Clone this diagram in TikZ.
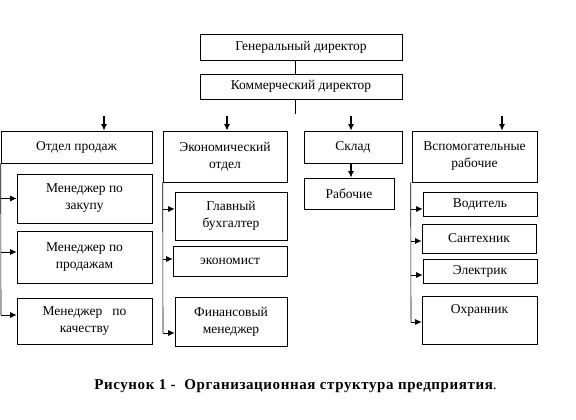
\documentclass[tikz,border=0pt]{standalone}
\usepackage{fontspec}
\setmainfont{Liberation Serif}
\usepackage{tikz}
\usetikzlibrary{arrows,arrows.meta,positioning}

\begin{document}
\begin{tikzpicture}[x=1pt, y=-1pt, >={Latex[length=6.5pt,width=6pt]},
    box/.style={draw=black, line width=0.6pt, rectangle, align=center, inner sep=1pt,
                font=\fontsize{13.5}{17}\selectfont},
    arr/.style={->, line width=0.9pt},
    bus/.style={line width=0.6pt}]
   \useasboundingbox (0,0) rectangle (576,420);

   % top management
   \node[box, minimum width=202pt, minimum height=26pt] (gen) at (301,47) {Генеральный директор};
   \node[box, minimum width=202pt, minimum height=25pt] (kom) at (301,86.5) {Коммерческий директор};

   % departments
   \node[box, minimum width=151pt, minimum height=32pt] (sales) at (76.5,147) {Отдел продаж};
   \node[box, minimum width=124pt, minimum height=51pt] (econ) at (225,156.5) {Экономический\\отдел};
   \node[box, minimum width=98pt, minimum height=32pt] (sklad) at (353,147) {Склад};
   \node[box, minimum width=125pt, minimum height=51pt] (aux) at (474.5,156.5) {Вспомогательные\\рабочие};

   % sales staff
   \node[box, minimum width=135pt, minimum height=49pt] (zak) at (84.5,198.5) {Менеджер по\\закупу};
   \node[box, minimum width=135pt, minimum height=52pt] (prod) at (84.5,257) {Менеджер по\\продажам};
   \node[box, minimum width=135pt, minimum height=46pt] (kach) at (84.5,321) {Менеджер\ \ \ по\\качеству};

   % economics staff
   \node[box, minimum width=112pt, minimum height=48pt] (buh) at (231,216) {Главный\\бухгалтер};
   \node[box, minimum width=114pt, minimum height=30pt] (ekon) at (230,261) {экономист};
   \node[box, minimum width=112pt, minimum height=49pt] (fin) at (231,321.5) {Финансовый\\менеджер};

   % warehouse staff
   \node[box, minimum width=90pt, minimum height=31pt] (rab) at (349,193.5) {Рабочие};

   % auxiliary staff
   \node[box, minimum width=114pt, minimum height=24pt] (vod) at (480,204) {Водитель};
   \node[box, minimum width=114pt, minimum height=29pt] (san) at (479,238.5) {Сантехник};
   \node[box, minimum width=114pt, minimum height=24pt] (elek) at (480,271) {Электрик};
   \node[box, minimum width=115pt, minimum height=48pt] (ohr) at (479.5,320) {Охранник\\\strut};

   % free ends
   \coordinate (k1) at (295,114);
   \coordinate (t1) at (104,116);
   \coordinate (t2) at (227,116);
   \coordinate (t3) at (351,116);
   \coordinate (t4) at (502,116);
   \coordinate (sb) at (1,315);
   \coordinate (eb) at (163,333);
   \coordinate (ab) at (411,322);

   \draw[bus] ([xshift=-6pt]gen.south) -- ([xshift=-6pt]kom.north);
   \draw[bus] ([xshift=-6pt]kom.south) -- (k1);

   \path[arr, line width=1.4pt]
     (t1) edge (t1 |- sales.north)
     (t2) edge (t2 |- econ.north)
     (t3) edge (t3 |- sklad.north)
     (t4) edge (t4 |- aux.north)
     ([xshift=-2pt]sklad.south) edge ([xshift=-2pt]sklad.south |- rab.north);

   % buses
   \draw[bus] (sales.south west) -- (sb);
   \draw[bus] (econ.south west) -- (eb);
   \draw[bus] ([xshift=-1pt]aux.south west) -- (ab);

   \path[arr]
     ([xshift=-16pt]zak.west) edge (zak.west)
     ([xshift=-16pt,yshift=5pt]prod.west) edge ([yshift=5pt]prod.west)
     ([xshift=-16pt,yshift=6pt]kach.west) edge ([yshift=6pt]kach.west)
     ([xshift=-12pt,yshift=7pt]buh.west) edge ([yshift=7pt]buh.west)
     ([xshift=-10pt,yshift=2pt]ekon.west) edge ([yshift=2pt]ekon.west)
     ([xshift=-12pt,yshift=-11.5pt]fin.west) edge ([yshift=-11.5pt]fin.west)
     ([xshift=-12pt,yshift=-5pt]vod.west) edge ([yshift=-5pt]vod.west)
     ([xshift=-11pt,yshift=-2.5pt]san.west) edge ([yshift=-2.5pt]san.west)
     ([xshift=-12pt,yshift=-4pt]elek.west) edge ([yshift=-4pt]elek.west)
     ([xshift=-11pt,yshift=-2pt]ohr.west) edge ([yshift=-2pt]ohr.west);

   % caption
   \node[font=\fontsize{15}{18}\selectfont] (cap) at (295.5,386)
     {\addfontfeatures{LetterSpace=4}\bfseries Рисунок 1 -\ \ Организационная структура предприятия\mdseries .};
\end{tikzpicture}
\end{document}
